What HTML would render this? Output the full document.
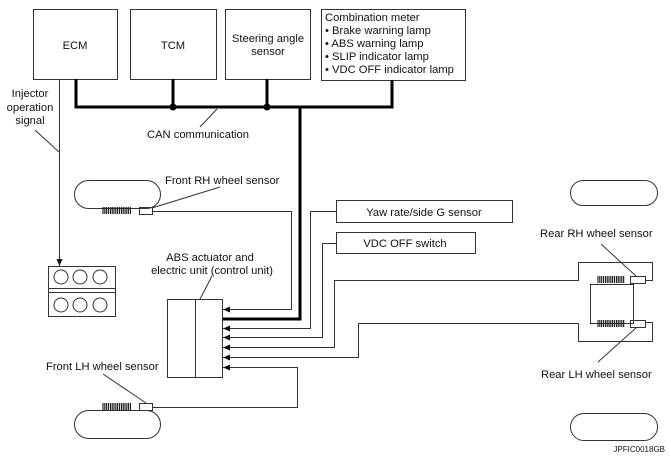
<!DOCTYPE html>
<html><head><meta charset="utf-8"><style>
body{margin:0;background:#fff}
svg{display:block}
text{font-family:"Liberation Sans",sans-serif;font-size:11.2px;fill:#111}
</style></head><body>
<svg width="671" height="459" viewBox="0 0 671 459" xmlns="http://www.w3.org/2000/svg">
<defs>
<marker id="a" markerWidth="8" markerHeight="6" refX="7" refY="3" orient="auto" markerUnits="userSpaceOnUse"><path d="M0,0 L7,3 L0,6z" fill="#111"/></marker>
<pattern id="t" width="2.2" height="8" patternUnits="userSpaceOnUse"><rect width="1.4" height="8" fill="#222"/></pattern>
</defs>
<g fill="none" stroke="#333" stroke-width="1">
<rect x="33.5" y="9.5" width="84" height="70"/>
<rect x="130.5" y="9.5" width="86" height="70"/>
<rect x="225.5" y="9.5" width="85" height="70"/>
<rect x="321.5" y="9.5" width="144" height="71"/>
</g>
<text x="75" y="49" text-anchor="middle">ECM</text>
<text x="173" y="49" text-anchor="middle">TCM</text>
<text x="268" y="42" text-anchor="middle">Steering angle</text>
<text x="268" y="55" text-anchor="middle">sensor</text>
<text x="325" y="21">Combination meter</text>
<text x="325" y="34">• Brake warning lamp</text>
<text x="325" y="47">• ABS warning lamp</text>
<text x="325" y="60">• SLIP indicator lamp</text>
<text x="325" y="73">• VDC OFF indicator lamp</text>
<g fill="none" stroke="#000" stroke-width="3">
<path d="M76,79 V107 H392 V80"/>
<path d="M173,79 V107 M267,79 V107"/>
<path d="M300,107 V319 H222"/>
</g>
<circle cx="173" cy="107" r="3.5" fill="#000"/>
<circle cx="267" cy="107" r="3.5" fill="#000"/>
<text x="198" y="138" text-anchor="middle">CAN communication</text>
<line x1="200" y1="127" x2="217" y2="109" stroke="#333"/>
<text x="30" y="97" text-anchor="middle">Injector</text>
<text x="30" y="111" text-anchor="middle">operation</text>
<text x="30" y="124" text-anchor="middle">signal</text>
<line x1="35" y1="130" x2="59" y2="152" stroke="#333"/>
<line x1="59.5" y1="79" x2="59.5" y2="266" stroke="#333" marker-end="url(#a)"/>
<g fill="none" stroke="#333">
<rect x="48.5" y="266.5" width="67" height="50"/>
<path d="M48,288.5 H116 M48,292.5 H116"/>
<circle cx="61" cy="277" r="7"/><circle cx="80" cy="277" r="7"/><circle cx="100" cy="277" r="7"/>
<circle cx="61" cy="305" r="7"/><circle cx="80" cy="305" r="7"/><circle cx="100" cy="305" r="7"/>
<rect x="74.5" y="180.5" width="86" height="28" rx="14"/>
<rect x="139.5" y="207.5" width="13" height="7"/>
<rect x="74.5" y="410.5" width="86" height="28" rx="14"/>
<rect x="139.5" y="403.5" width="13" height="7"/>
<rect x="570.5" y="180.5" width="87" height="25" rx="12.5"/>
<rect x="570.5" y="413.5" width="87" height="27" rx="13.5"/>
<rect x="167.5" y="299.5" width="55" height="78"/>
<line x1="195.5" y1="299" x2="195.5" y2="378"/>
<rect x="336.5" y="200.5" width="176" height="22"/>
<rect x="336.5" y="232.5" width="139" height="21"/>
<rect x="590.5" y="284.5" width="43" height="39"/>
<rect x="630.5" y="276.5" width="15" height="7"/>
<rect x="630.5" y="320.5" width="15" height="7"/>
</g>
<rect x="102" y="207" width="29" height="7" fill="url(#t)"/>
<rect x="102" y="403" width="29" height="7" fill="url(#t)"/>
<rect x="597" y="276" width="28" height="7" fill="url(#t)"/>
<rect x="597" y="320" width="28" height="7" fill="url(#t)"/>
<text x="165" y="184">Front RH wheel sensor</text>
<line x1="220" y1="187" x2="152" y2="208" stroke="#333"/>
<text x="46" y="370">Front LH wheel sensor</text>
<line x1="103" y1="374" x2="146" y2="403" stroke="#333"/>
<text x="210" y="261" text-anchor="middle">ABS actuator and</text>
<text x="212" y="274" text-anchor="middle">electric unit (control unit)</text>
<line x1="212" y1="276" x2="200" y2="299" stroke="#333"/>
<text x="424" y="216" text-anchor="middle">Yaw rate/side G sensor</text>
<text x="405" y="247" text-anchor="middle">VDC OFF switch</text>
<text x="540" y="237">Rear RH wheel sensor</text>
<line x1="601" y1="244" x2="636" y2="276" stroke="#333"/>
<text x="541" y="378">Rear LH wheel sensor</text>
<line x1="598" y1="362" x2="636" y2="328" stroke="#333"/>
<text x="665" y="452" text-anchor="end" style="font-size:8px">JPFIC0018GB</text>
<g fill="none" stroke="#333" stroke-width="1">
<path d="M152,211.5 H291.5 V309.5 H223" marker-end="url(#a)"/>
<path d="M336,211.5 H310.5 V328.5 H223" marker-end="url(#a)"/>
<path d="M336,243.5 H322.5 V337.5 H223" marker-end="url(#a)"/>
<path d="M646,280.5 H652.5 V262.5 H578.5 V280.5 H334.5 V347.5 H223" marker-end="url(#a)"/>
<path d="M646,322.5 H652.5 V341.5 H578.5 V323.5 H358.5 V357.5 H223" marker-end="url(#a)"/>
<path d="M153,407.5 H297.5 V367.5 H223" marker-end="url(#a)"/>
</g>
</svg>
</body></html>
